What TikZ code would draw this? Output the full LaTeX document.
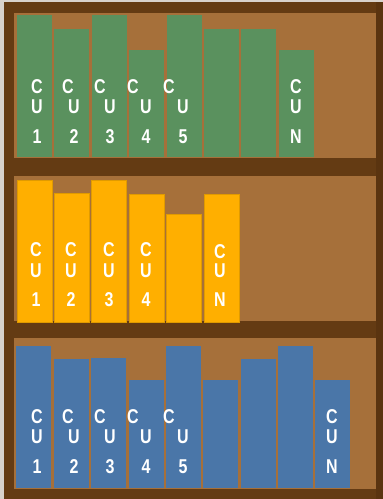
\documentclass[tikz,border=0pt]{standalone}
\usepackage{fontspec}
\newfontfamily\lblfont{Liberation Sans}[FakeStretch=0.8]
\definecolor{frameB}{HTML}{643B13}
\definecolor{frameR}{HTML}{5A3410}
\definecolor{panelB}{HTML}{A6703A}
\definecolor{bookG}{HTML}{5A915E}
\definecolor{bookO}{HTML}{FFAF00}
\definecolor{bookOd}{HTML}{E09A00}
\definecolor{bookB}{HTML}{4A76A8}
\definecolor{edgeL}{HTML}{D8D2CC}
\tikzset{
  panel/.style={fill=panelB, draw=none},
  gbook/.style={fill=bookG, draw=none},
  obook/.style={fill=bookO, draw=bookOd, line width=0.6pt},
  bbook/.style={fill=bookB, draw=none},
  lbl/.style={text=white, font=\lblfont\bfseries\fontsize{20}{20}\selectfont, inner sep=0pt, anchor=center}
}
\begin{document}
\begin{tikzpicture}[x=1pt,y=-1pt]
\useasboundingbox (0,0) rectangle (383,499);
\fill[edgeL] (0,0) rectangle (383,499);
\fill[frameB] (4,2) rectangle (383,499);
\fill[frameR] (376,2) rectangle (383,499);
% panels
\fill[panel] (14,13) rectangle (376,158);
\fill[panel] (14,176) rectangle (376,321);
\fill[panel] (14,338) rectangle (376,489);
% shelf 1 books
\foreach \l/\t [count=\i] in {17/15,54/29,92/15,129/50,167/15,204/29,241/29,279/50}
  \fill[gbook] (\l,\t) rectangle ++(35,157-\t);
% shelf 2 books
\foreach \l/\t [count=\i] in {17/180,54/193,91/180,129/194,166/214,204/194}
  \filldraw[obook] (\l,\t) rectangle ++(35,322-\t);
% shelf 3 books
\foreach \l/\t [count=\i] in {16/346,54/359,91/358,129/380,166/346,203/380,241/359,278/346,315/380}
  \fill[bbook] (\l,\t) rectangle ++(35,488-\t);
% labels shelf 1
\foreach \cx/\ux/\n [count=\i] in {37/37/1,68/74/2,100/110/3,133/146/4,169/183/5,296/296/N}{
  \node[lbl] (a\i c) at (\cx,87) {C};
  \node[lbl] (a\i u) at (\ux,107) {U};
  \node[lbl] (a\i n) at (\ux,137) {\n};
}
% labels shelf 2
\foreach \cx/\ux/\n/\cy [count=\i] in {36/36/1/250,71/71/2/250,109/109/3/250,146/146/4/250,220/220/N/252}{
  \node[lbl] (b\i c) at (\cx,\cy) {C};
  \node[lbl] (b\i u) at (\ux,271) {U};
  \node[lbl] (b\i n) at (\ux,300) {\n};
}
% labels shelf 3
\foreach \cx/\ux/\n [count=\i] in {37/37/1,68/74/2,100/110/3,133/146/4,169/183/5,332/332/N}{
  \node[lbl] (c\i c) at (\cx,417) {C};
  \node[lbl] (c\i u) at (\ux,437) {U};
  \node[lbl] (c\i n) at (\ux,467) {\n};
}
\end{tikzpicture}
\end{document}
